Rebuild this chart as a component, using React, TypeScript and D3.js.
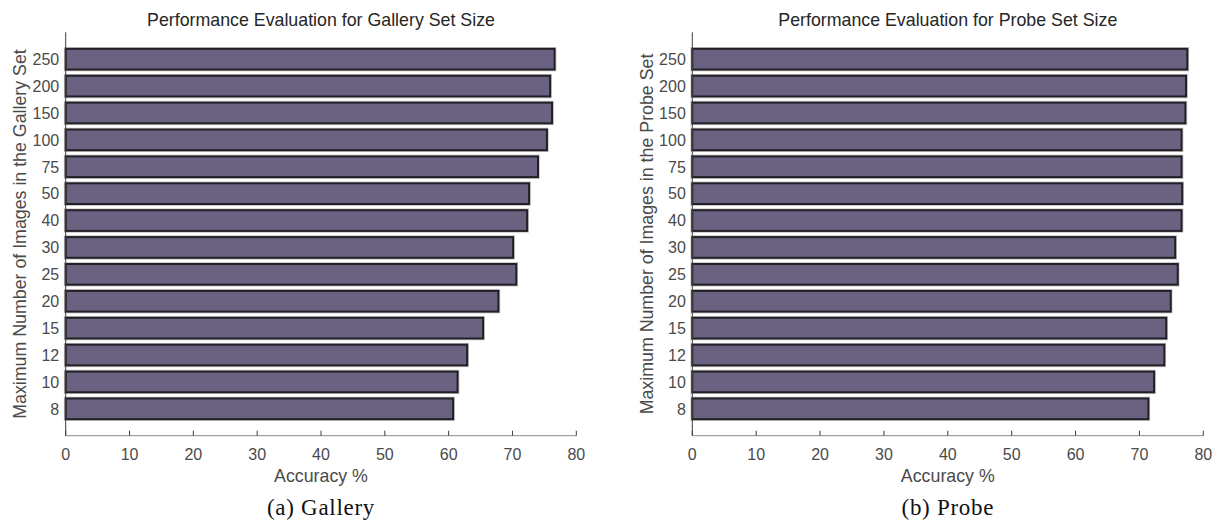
import React from "react";
import * as d3 from "d3";

// Set-size categories, listed from the bottom bar to the top bar
const setSizes = ["8", "10", "12", "15", "20", "25", "30", "40", "50", "75", "100", "150", "200", "250"];

// Accuracy (%) per maximum gallery set size
const galleryAccuracy = [60.7, 61.4, 62.9, 65.4, 67.8, 70.6, 70.1, 72.3, 72.6, 74.0, 75.4, 76.2, 75.9, 76.6];

// Accuracy (%) per maximum probe set size
const probeAccuracy = [71.4, 72.3, 73.9, 74.2, 74.9, 76.0, 75.6, 76.6, 76.7, 76.6, 76.6, 77.2, 77.3, 77.5];

const xTicks = [0, 10, 20, 30, 40, 50, 60, 70, 80];

const W = 1215;
const H = 523;
const SANS = "'Liberation Sans', Arial, Helvetica, sans-serif";
const SERIF = "'Liberation Serif', 'Times New Roman', serif";

const BAR_FILL = "#6a6280";
const BAR_EDGE = "#231f26";
const TEXT = "#4a4a4a";
const LABEL_SIZE = 17.8;
const TICK_SIZE = 16;

type PanelProps = {
  left: number;
  right: number;
  top: number;
  bottom: number;
  values: number[];
  title: string;
  yLabel: string;
  caption: string;
};

function Panel({ left, right, top, bottom, values, title, yLabel, caption }: PanelProps) {
  const x = d3.scaleLinear().domain([0, 80]).range([left, right]);
  const y = d3.scaleLinear().domain([0, setSizes.length + 1]).range([bottom, top]);
  const barW = 0.77;
  const bh = y(0) - y(barW);
  const cx = (left + right) / 2;
  const cy = (top + bottom) / 2;

  return (
    <g>
      <text x={cx} y={25.8} textAnchor="middle" fontFamily={SANS} fontSize={LABEL_SIZE} fill="#262626">
        {title}
      </text>

      {values.map((v, i) => {
        const yc = y(i + 1);
        const bx = x(0);
        const bw = x(v) - x(0);
        return (
          <g key={setSizes[i]}>
            <rect x={bx} y={yc - bh / 2} width={bw} height={bh} fill="none" stroke="#c6c6c6" strokeWidth={3.6} />
            <rect x={bx} y={yc - bh / 2} width={bw} height={bh} fill={BAR_FILL} stroke={BAR_EDGE} strokeWidth={2} />
          </g>
        );
      })}

      {/* y axis */}
      <line x1={left} x2={left} y1={top} y2={bottom} stroke="#3c3c3c" strokeWidth={1} />
      {setSizes.map((s, i) => (
        <text
          key={s}
          x={left - 6.5}
          y={y(i + 1)}
          dy="0.36em"
          textAnchor="end"
          fontFamily={SANS}
          fontSize={TICK_SIZE}
          fill={TEXT}
        >
          {s}
        </text>
      ))}

      {/* x axis */}
      <line x1={left} x2={right} y1={bottom} y2={bottom} stroke="#8a8a8a" strokeWidth={1} />
      {xTicks.map((t) => (
        <g key={t}>
          <line x1={x(t)} x2={x(t)} y1={bottom} y2={bottom - 5} stroke="#3c3c3c" strokeWidth={1} />
          <text x={x(t)} y={bottom + 18.5} dy="0.36em" textAnchor="middle" fontFamily={SANS} fontSize={TICK_SIZE} fill={TEXT}>
            {t}
          </text>
        </g>
      ))}

      <text x={cx} y={476} dy="0.36em" textAnchor="middle" fontFamily={SANS} fontSize={LABEL_SIZE} fill={TEXT}>
        Accuracy %
      </text>
      <text
        transform={`translate(${left - 46},${cy}) rotate(-90)`}
        dy="0.36em"
        textAnchor="middle"
        fontFamily={SANS}
        fontSize={LABEL_SIZE}
        fill={TEXT}
      >
        {yLabel}
      </text>

      <text
        x={cx}
        y={507}
        dy="0.34em"
        textAnchor="middle"
        fontFamily={SERIF}
        fontSize={23}
        letterSpacing={0.7}
        fill="#111"
      >
        {caption}
      </text>
    </g>
  );
}

export default function App() {
  return (
    <svg
      width={W}
      height={H}
      viewBox={`0 0 ${W} ${H}`}
      style={{ position: "absolute", left: 0, top: 0, background: "#fff" }}
    >
      <rect width={W} height={H} fill="#fff" />
      <Panel
        left={65.7}
        right={576.3}
        top={32.3}
        bottom={435.7}
        values={galleryAccuracy}
        title="Performance Evaluation for Gallery Set Size"
        yLabel="Maximum Number of Images in the Gallery Set"
        caption="(a) Gallery"
      />
      <Panel
        left={692.3}
        right={1203.3}
        top={32.3}
        bottom={435.7}
        values={probeAccuracy}
        title="Performance Evaluation for Probe Set Size"
        yLabel="Maximum Number of Images in the Probe Set"
        caption="(b) Probe"
      />
    </svg>
  );
}
